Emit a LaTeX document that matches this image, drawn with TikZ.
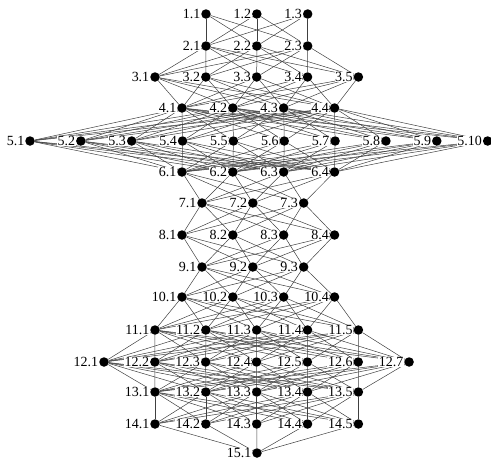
\documentclass[tikz,border=0pt]{standalone}
\usepackage{fontspec}
\setmainfont{Liberation Serif}
\usetikzlibrary{backgrounds}

\begin{document}
\begin{tikzpicture}[x=1pt, y=-1pt,
  font=\fontsize{14}{16}\selectfont,
  dot/.style={circle, fill=black, inner sep=0pt, minimum size=9.5pt},
  lbl/.style={fill=white, inner sep=0.6pt, label distance=0pt},
  edge/.style={draw=black!75, line width=0.5pt}]
  \useasboundingbox (0,0) rectangle (491,461);
  % layer / count / first x / y
  \foreach \l/\n/\x/\y in {1/3/206/14, 2/3/206/46, 3/5/155/77, 4/4/182/108,
      5/10/30/141, 6/4/182/172, 7/3/202/203, 8/4/182/235, 9/3/202/267,
      10/4/182/297, 11/5/155/330, 12/7/104/362, 13/5/155/392,
      14/5/155/424, 15/1/257/453}
    \foreach \i in {1,...,\n}
      \node[dot, label={[lbl]left:\l.\i}] (n\l-\i) at ({\x+50.85*(\i-1)},\y) {};
  % every node is joined to every node of the next layer
  \begin{pgfonlayer}{background}
    \foreach \l/\n/\k/\m in {1/3/2/3, 2/3/3/5, 3/5/4/4, 4/4/5/10, 5/10/6/4,
        6/4/7/3, 7/3/8/4, 8/4/9/3, 9/3/10/4, 10/4/11/5, 11/5/12/7,
        12/7/13/5, 13/5/14/5, 14/5/15/1}
      \foreach \i in {1,...,\n}
        \foreach \j in {1,...,\m}
          \draw[edge] (n\l-\i) -- (n\k-\j);
  \end{pgfonlayer}
\end{tikzpicture}
\end{document}
